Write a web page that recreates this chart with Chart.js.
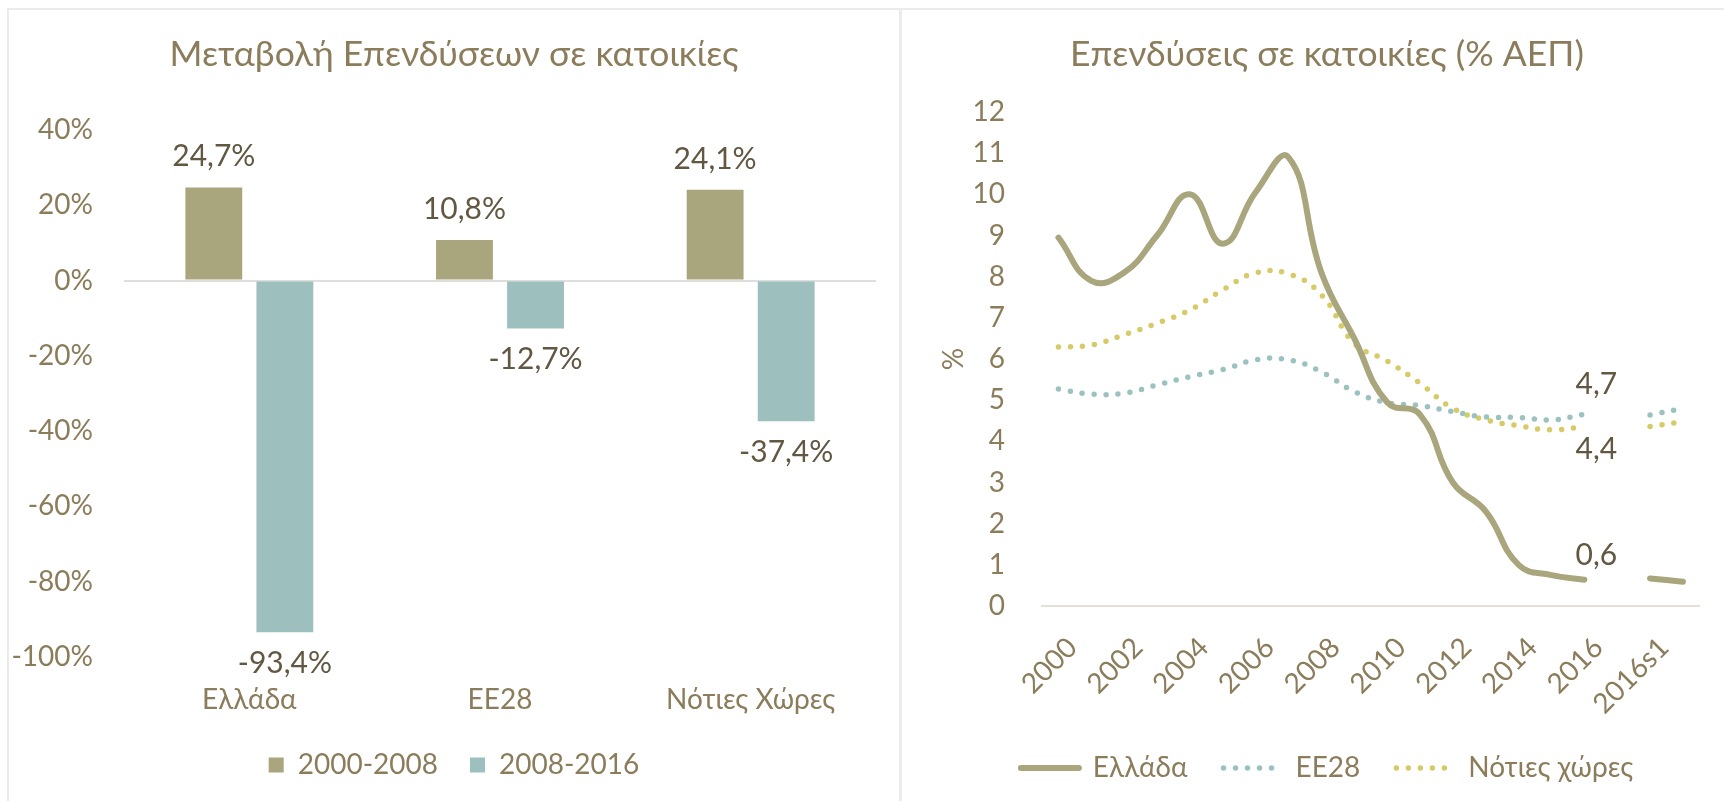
<!DOCTYPE html>
<html>
<head>
<meta charset="utf-8">
<script src="https://cdn.jsdelivr.net/npm/chart.js@4.4.1/dist/chart.umd.min.js"></script>
<style>
html, body { margin: 0; padding: 0; background: #ffffff; width: 1724px; height: 801px; overflow: hidden; }
.wrap { position: absolute; top: 0; height: 801px; }
.rule { position: absolute; background: #ebebeb; }
</style>
</head>
<body>
<div class="rule" style="left:7px;top:8px;width:1717px;height:2px"></div>
<div class="rule" style="left:7px;top:8px;width:2px;height:793px"></div>
<div class="rule" style="left:899px;top:8px;width:3px;height:793px"></div>
<div class="wrap" style="left:0;width:900px"><canvas id="c1"></canvas></div>
<div class="wrap" style="left:900px;width:824px"><canvas id="c2"></canvas></div>
<script>
// ---------- Left chart data ----------
const barTitle = 'Μεταβολή Επενδύσεων σε κατοικίες';
const barCategories = ['Ελλάδα', 'ΕΕ28', 'Νότιες Χώρες'];
const barSeriesNames = ['2000-2008', '2008-2016'];
const change2000_2008 = [24.7, 10.8, 24.1];
const change2008_2016 = [-93.4, -12.7, -37.4];
const barAxisMin = -100;
const barAxisMax = 40;
const barAxisStep = 20;

// ---------- Right chart data ----------
const lineTitle = 'Επενδύσεις σε κατοικίες (% ΑΕΠ)';
const lineAxisTitle = '%';
const periods = ['2000','2001','2002','2003','2004','2005','2006','2007','2008','2009',
                 '2010','2011','2012','2013','2014','2015','2016','','2016s1',''];
const lineSeriesNames = ['Ελλάδα', 'ΕΕ28', 'Νότιες χώρες'];
const greece = [8.95, 7.9, 8.1, 9.0, 10.0, 8.8, 10.05, 10.9, 8.1, 6.5,
                4.95, 4.65, 3.0, 2.3, 1.0, 0.75, 0.64, null, 0.67, 0.59];
const eu28   = [5.27, 5.15, 5.17, 5.37, 5.57, 5.74, 5.98, 5.98, 5.69, 5.21,
                4.94, 4.87, 4.72, 4.59, 4.58, 4.52, 4.66, null, 4.64, 4.80];
const south  = [6.29, 6.34, 6.59, 6.87, 7.19, 7.68, 8.09, 8.07, 7.56, 6.38,
                5.95, 5.41, 4.80, 4.52, 4.38, 4.28, 4.36, null, 4.36, 4.48];
const lineAxisMin = 0;
const lineAxisMax = 12;
const lineAxisStep = 1;

// ---------- Styles ----------
const FONT = "Lato, 'Noto Sans', sans-serif";
const TEXT = '#8b7d5c';
const LABEL_TEXT = '#615742';
const OLIVE = '#a9a57c';
const TEAL = '#9dbfbe';
const TEAL_LINE = '#9cc2c0';
const YELLOW = '#d6cb66';
const fmt = v => v.toFixed(1).replace('.', ',');

const barLabels = {
  id: 'barLabels',
  afterDatasetsDraw(chart) {
    const ctx = chart.ctx;
    ctx.save();
    ctx.font = '30px ' + FONT;
    ctx.fillStyle = LABEL_TEXT;
    ctx.textAlign = 'center';
    ctx.textBaseline = 'middle';
    chart.data.datasets.forEach((ds, di) => {
      const meta = chart.getDatasetMeta(di);
      ds.data.forEach((v, i) => {
        const el = meta.data[i];
        const y = v >= 0 ? el.y - 31 : el.y + 31;
        ctx.fillText(fmt(v) + '%', el.x, y);
      });
    });
    ctx.restore();
  }
};

const lineLabelSpecs = [
  { dataset: 0, index: 16, dy: -24 },
  { dataset: 1, index: 16, dy: -30 },
  { dataset: 2, index: 16, dy: 23 }
];
const lineLabels = {
  id: 'lineLabels',
  afterDatasetsDraw(chart) {
    const ctx = chart.ctx;
    ctx.save();
    ctx.font = '30px ' + FONT;
    ctx.fillStyle = LABEL_TEXT;
    ctx.textAlign = 'center';
    ctx.textBaseline = 'middle';
    lineLabelSpecs.forEach(s => {
      const el = chart.getDatasetMeta(s.dataset).data[s.index];
      const v = chart.data.datasets[s.dataset].data[s.index];
      ctx.fillText(fmt(v), el.x + 12, el.y + s.dy);
    });
    ctx.restore();
  }
};

// legend items for lines keep the dataset dash pattern
function lineLegendLabels(chart) {
  const items = Chart.defaults.plugins.legend.labels.generateLabels(chart);
  items.forEach(it => {
    const ds = chart.data.datasets[it.datasetIndex];
    it.lineDash = ds.borderDash || [];
    it.lineCap = 'round';
    it.lineWidth = ds.borderWidth;
    it.strokeStyle = ds.borderColor;
    it.fillStyle = ds.borderColor;
  });
  return items;
}

// ---------- Left chart ----------
new Chart(document.getElementById('c1'), {
  type: 'bar',
  data: {
    labels: barCategories,
    datasets: [
      { label: barSeriesNames[0], data: change2000_2008, backgroundColor: OLIVE, borderWidth: 0,
        categoryPercentage: 0.567, barPercentage: 0.8 },
      { label: barSeriesNames[1], data: change2008_2016, backgroundColor: TEAL, borderWidth: 0,
        categoryPercentage: 0.567, barPercentage: 0.8 }
    ]
  },
  options: {
    responsive: true,
    maintainAspectRatio: false,
    animation: false,
    layout: { padding: { left: 9, right: 1, top: 0, bottom: 12 } },
    plugins: {
      title: {
        display: true, text: barTitle, color: TEXT,
        font: { family: FONT, size: 35.5, weight: 'normal' },
        padding: { top: 33.7, bottom: 53.7 }
      },
      legend: {
        position: 'bottom',
        labels: { boxWidth: 15, boxHeight: 15, padding: 32, color: TEXT,
                  font: { family: FONT, size: 28 } }
      },
      tooltip: { enabled: false }
    },
    scales: {
      x: {
        grid: { display: false }, border: { display: false },
        ticks: { color: TEXT, padding: 18, font: { family: FONT, size: 28 } },
        afterFit: s => { s.height = 62; }
      },
      y: {
        min: barAxisMin, max: barAxisMax,
        border: { display: false },
        grid: {
          drawTicks: false, lineWidth: 2,
          color: c => (c.tick && c.tick.value === 0) ? '#dedede' : 'rgba(0,0,0,0)'
        },
        ticks: { stepSize: barAxisStep, color: TEXT, padding: 31,
                 font: { family: FONT, size: 28 }, callback: v => v + '%' },
        afterFit: s => { s.width = 115; }
      },
      yR: {
        position: 'right', display: true,
        grid: { display: false }, border: { display: false },
        ticks: { display: false },
        afterFit: s => { s.width = 23; }
      }
    }
  },
  plugins: [barLabels]
});

// ---------- Right chart ----------
new Chart(document.getElementById('c2'), {
  type: 'line',
  data: {
    labels: periods,
    datasets: [
      { label: lineSeriesNames[0], data: greece, borderColor: OLIVE, backgroundColor: OLIVE,
        borderWidth: 6, tension: 0.45, pointRadius: 0, borderCapStyle: 'round', borderJoinStyle: 'round' },
      { label: lineSeriesNames[1], data: eu28, borderColor: TEAL_LINE, backgroundColor: TEAL_LINE,
        borderWidth: 5.5, borderDash: [0, 12], tension: 0.45, pointRadius: 0, borderCapStyle: 'round' },
      { label: lineSeriesNames[2], data: south, borderColor: YELLOW, backgroundColor: YELLOW,
        borderWidth: 5.5, borderDash: [0, 12], tension: 0.45, pointRadius: 0, borderCapStyle: 'round' }
    ]
  },
  options: {
    responsive: true,
    maintainAspectRatio: false,
    animation: false,
    layout: { padding: { left: 30, right: 0, top: 0, bottom: 9 } },
    plugins: {
      title: {
        display: true, text: lineTitle, color: TEXT,
        font: { family: FONT, size: 35.5, weight: 'normal' },
        padding: { top: 33.7, bottom: 35.7 }
      },
      legend: {
        position: 'bottom',
        labels: { usePointStyle: true, pointStyle: 'line', pointStyleWidth: 58, padding: 36,
                  color: TEXT, font: { family: FONT, size: 28 }, generateLabels: lineLegendLabels }
      },
      tooltip: { enabled: false }
    },
    scales: {
      x: {
        offset: true,
        grid: { display: false },
        border: { display: true, color: '#e4e0d8', width: 2 },
        ticks: {
          color: TEXT, padding: 17, labelOffset: 14, autoSkip: false, minRotation: 45, maxRotation: 45,
          font: { family: FONT, size: 28 },
          callback: function (val, index) { return index % 2 === 0 ? this.getLabelForValue(val) : ''; }
        },
        afterFit: s => { s.height = 112; }
      },
      y: {
        min: lineAxisMin, max: lineAxisMax,
        grid: { display: false }, border: { display: false },
        ticks: { stepSize: lineAxisStep, color: TEXT, padding: 29, font: { family: FONT, size: 28 } },
        title: { display: true, text: lineAxisTitle, color: TEXT,
                 font: { family: FONT, size: 28 }, padding: { top: 7, bottom: 0 } },
        afterFit: s => { s.width = 112; }
      },
      yR: {
        position: 'right', display: true,
        grid: { display: false }, border: { display: false },
        ticks: { display: false },
        afterFit: s => { s.width = 12; }
      }
    }
  },
  plugins: [lineLabels]
});
</script>
</body>
</html>
